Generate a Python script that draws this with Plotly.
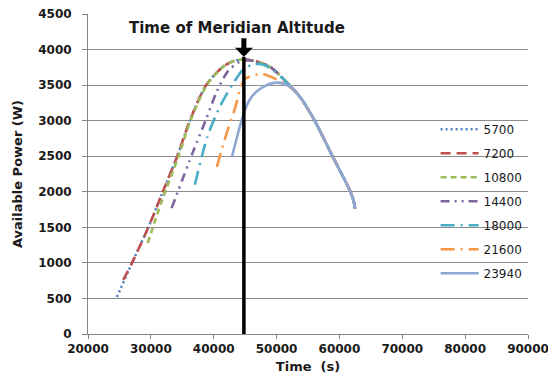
import plotly.graph_objects as go

# Available power over time for each start offset (s)
t_5700 = [24600, 27000, 29600, 31900, 34200, 36200, 38800, 41500, 43200, 44800,
          46500, 48900, 50500, 51700, 53000, 54000, 56000, 58900, 61600, 62200, 62500]
p_5700 = [520, 1000, 1500, 2000, 2500, 3000, 3500, 3760, 3840, 3860,
          3840, 3760, 3640, 3530, 3410, 3300, 3010, 2500, 2030, 1890, 1760]

t_7200 = [25600, 27000, 29600, 31900, 34200, 36200, 38800, 41500, 43200, 44800,
          46500, 48900, 50500, 51700, 53000, 54000, 56000, 58900, 61600, 62200, 62500]
p_7200 = [760, 1000, 1500, 2000, 2500, 3000, 3500, 3760, 3840, 3860,
          3840, 3760, 3640, 3530, 3410, 3300, 3010, 2500, 2030, 1890, 1760]

t_10800 = [29500, 31700, 34400, 36300, 38900, 41500, 43200, 44900,
           46500, 48900, 50500, 51700, 53000, 54000, 56000, 58900, 61600, 62200, 62500]
p_10800 = [1280, 1860, 2500, 3000, 3500, 3760, 3840, 3860,
           3840, 3760, 3640, 3530, 3410, 3300, 3010, 2500, 2030, 1890, 1760]

t_14400 = [33300, 36700, 38700, 40500, 42300, 44000, 45500, 47000,
           48900, 50500, 51700, 53000, 54000, 56000, 58900, 61600, 62200, 62500]
p_14400 = [1770, 2560, 3000, 3410, 3700, 3820, 3850, 3820,
           3760, 3640, 3530, 3410, 3300, 3010, 2500, 2030, 1890, 1760]

t_18000 = [37000, 39000, 41000, 43000, 44600, 46200, 47800, 49300, 50800, 52000,
           53000, 54000, 56000, 58900, 61600, 62200, 62500]
p_18000 = [2100, 2775, 3200, 3510, 3710, 3790, 3790, 3720, 3610, 3500,
           3410, 3300, 3010, 2500, 2030, 1890, 1760]

t_21600 = [40500, 41800, 43300, 44900, 46500, 47600, 49000, 50500, 51700,
           53000, 54000, 56000, 58900, 61600, 62200, 62500]
p_21600 = [2350, 2750, 3150, 3580, 3640, 3660, 3620, 3560, 3500,
           3410, 3300, 3010, 2500, 2030, 1890, 1760]

t_23940 = [42900, 44800, 45700, 46700, 48200, 50000, 52000, 53000, 54000, 56000,
           58900, 61600, 62200, 62500]
p_23940 = [2490, 3110, 3290, 3400, 3490, 3535, 3485, 3410, 3300, 3010,
           2500, 2030, 1890, 1760]

series_names = ["5700", "7200", "10800", "14400", "18000", "21600", "23940"]
series_t = [t_5700, t_7200, t_10800, t_14400, t_18000, t_21600, t_23940]
series_p = [p_5700, p_7200, p_10800, p_14400, p_18000, p_21600, p_23940]
series_colors = ["#4F81BD", "#C0504D", "#9BBB59", "#8064A2", "#4BACC6", "#F79646", "#8EA6D4"]
series_dash = ["2px,3px", "10px,6px", "6px,4px", "9px,5px,2px,5px,2px,5px",
               "14px,6px,2px,6px", "14px,6px,2px,6px", "solid"]

meridian_t = 44800
meridian_top = 3900
arrow_base = 4180

x_ticks = [20000, 30000, 40000, 50000, 60000, 70000, 80000, 90000]
y_ticks = [0, 500, 1000, 1500, 2000, 2500, 3000, 3500, 4000, 4500]

FONT = "DejaVu Sans"
TXT = "#1a1a1a"

fig = go.Figure()
for name, t, p, c, d in zip(series_names, series_t, series_p, series_colors, series_dash):
    fig.add_trace(go.Scatter(
        x=t, y=p, name=name, mode="lines", legendgroup=name,
        line=dict(color=c, width=2.6, dash=d, shape="spline", smoothing=0.8),
    ))

# meridian marker line with downward arrow
fig.add_shape(type="line", xref="x", yref="y",
              x0=meridian_t, x1=meridian_t, y0=0, y1=meridian_top,
              line=dict(color="black", width=3.5))

fig.add_annotation(x=meridian_t, y=meridian_top, ax=meridian_t, ay=arrow_base,
                   xref="x", yref="y", axref="x", ayref="y", text="",
                   showarrow=True, arrowhead=1, arrowsize=0.6, arrowwidth=5,
                   arrowcolor="black")

fig.add_annotation(x=43650, y=4300, xref="x", yref="y", yanchor="middle",
                   text="<b>Time of Meridian Altitude</b>", showarrow=False,
                   font=dict(family=FONT, size=15, color=TXT))

fig.update_layout(
    width=548, height=380,
    margin=dict(l=88, r=20, t=14, b=46),
    paper_bgcolor="white", plot_bgcolor="white",
    font=dict(family=FONT, color=TXT),
    showlegend=True,
    legend=dict(x=0.79, y=0.685, xanchor="left", yanchor="top",
                bgcolor="rgba(0,0,0,0)", font=dict(family=FONT, size=12, color=TXT),
                tracegroupgap=5, itemwidth=38),
    xaxis=dict(range=[20000, 90000], tickvals=x_ticks, ticktext=[f"<b>{v}</b>" for v in x_ticks],
               showgrid=False, zeroline=False, showline=True, linecolor="#868686", linewidth=1,
               ticks="outside", ticklen=4, tickcolor="#868686", ticklabeloverflow="allow",
               tickfont=dict(family=FONT, size=12, color=TXT),
               title=dict(text="<b>Time  (s)</b>", font=dict(family=FONT, size=13, color=TXT), standoff=6),
               automargin=False),
    yaxis=dict(range=[0, 4500], tickvals=y_ticks, ticktext=[f"<b>{v}</b>" for v in y_ticks],
               showgrid=True, gridcolor="#8c8c8c", gridwidth=1, zeroline=False,
               showline=True, linecolor="#868686", linewidth=1,
               ticks="outside", ticklen=5, tickcolor="#868686", ticklabelstandoff=8,
               tickfont=dict(family=FONT, size=12, color=TXT),
               title=dict(text="<b>Available Power (W)</b>", font=dict(family=FONT, size=13, color=TXT), standoff=12),
               automargin=False),
)

fig.write_html("out.html")
